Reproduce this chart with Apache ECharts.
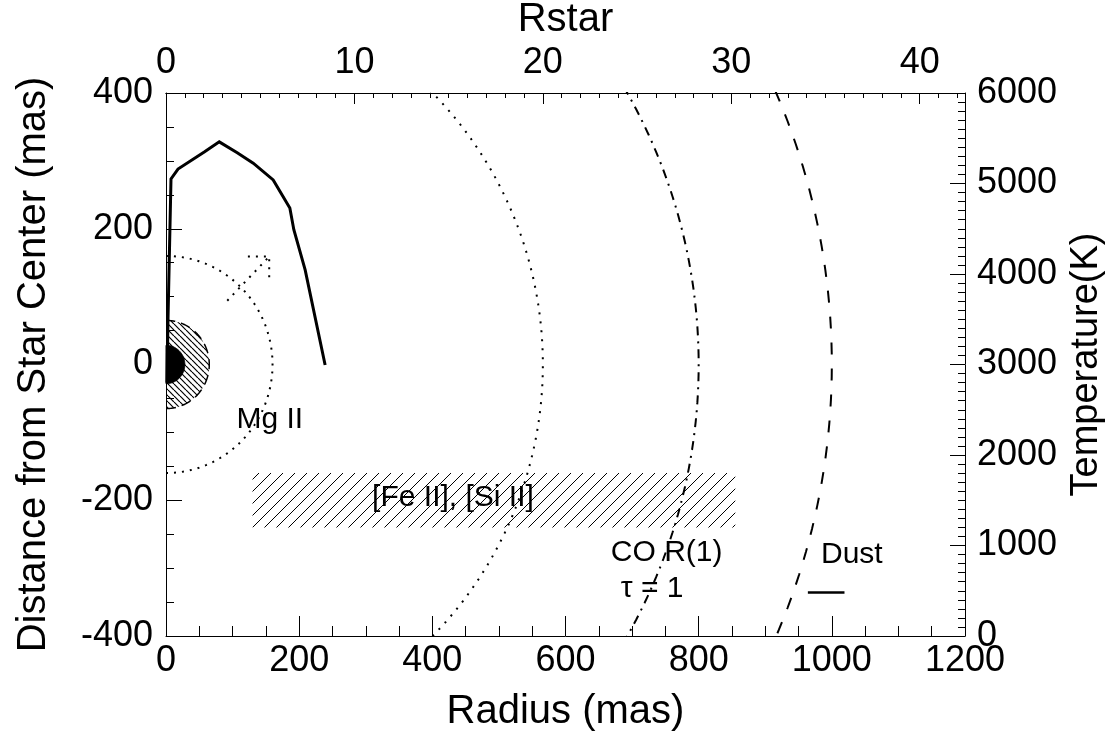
<!DOCTYPE html>
<html><head><meta charset="utf-8">
<script src="https://cdn.jsdelivr.net/npm/echarts@6/dist/echarts.min.js"></script>
<style>html,body{margin:0;padding:0;background:#fff}#c{width:1112px;height:736px}</style>
</head><body><div id="c"></div>
<script>
// ---- data ----
const RSTAR_MAS = 28.3;                 // one stellar radius in mas
const xTickInterval = 200;
const yTickInterval = 200;
const tempTickInterval = 1000;
const rstarTickInterval = 10;

// temperature profile (radius in mas, T in K)
const tempRadius = [1.5, 3, 7.5, 18, 58, 80, 107, 131, 161, 186, 192, 209, 239];
const tempK      = [2800, 3500, 5050, 5160, 5350, 5460, 5340, 5225, 5040, 4730, 4490, 4045, 2995];

// shells (radius in mas)
const starRadius = 28.3;
const hatchedShellRadius = 65;
const mgIIRadius = 160;
const dottedArcRadius = 566;   // 20 Rstar
const coArcRadius = 800;
const dustArcRadius = 1000;

// [Fe II], [Si II] band
const feBandX = [130, 855];
const feBandY = [-160, -240];

// dotted arrow
const arrowShaft = [[92, 94], [155, 159]];
const arrowHead = [[123, 159], [155, 159], [155, 128]];

// Dust key segment
const dustKey = [[964, -336], [1019, -336]];

// annotation labels
const labelText = ['Mg II', '[Fe II], [Si II]', 'CO R(1)', 'τ = 1', 'Dust'];
const labelX = [156, 431, 752, 730, 1030];
const labelY = [-82, -196, -277, -331, -280];

// ---- helpers ----
function halfCircle(r) {
  const pts = [];
  for (let a = -90; a <= 90; a += 1) {
    const t = a * Math.PI / 180;
    pts.push([r * Math.cos(t), r * Math.sin(t)]);
  }
  return pts;
}
function hatch(size, dir, lw) {
  const c = document.createElement('canvas');
  c.width = c.height = size;
  const g = c.getContext('2d');
  g.strokeStyle = '#000'; g.lineWidth = lw;
  for (let k = -1; k <= 1; k++) {
    g.beginPath();
    if (dir > 0) { g.moveTo(k * size, size); g.lineTo(k * size + size, 0); }
    else { g.moveTo(k * size, 0); g.lineTo(k * size + size, size); }
    g.stroke();
  }
  return c;
}
const bandPattern = { image: hatch(12, 1, 1), repeat: 'repeat' };
const shellPattern = { image: hatch(6, -1, 1.2), repeat: 'repeat' };

const FONT = 'Liberation Sans, Arial, Helvetica, sans-serif';
const tickFont = 36, titleFont = 40, annFont = 30;
const plain = v => String(v);

const chart = echarts.init(document.getElementById('c'), null, { renderer: 'canvas' });
const blackLine = { color: '#000', width: 1 };

function arcSeries(r, type, width) {
  return {
    type: 'line', xAxisIndex: 0, yAxisIndex: 0, data: halfCircle(r),
    showSymbol: false, symbol: 'none', clip: true, silent: true,
    lineStyle: { color: '#000', width: width, type: type }, z: 3
  };
}

const option = {
  animation: false,
  backgroundColor: '#fff',
  grid: { left: 166, right: 147, top: 93, bottom: 100, containLabel: false, outerBoundsMode: 'none' },
  xAxis: [
    { type: 'value', position: 'bottom', min: 0, max: 1200, interval: xTickInterval,
      name: 'Radius (mas)', nameLocation: 'middle', nameGap: 56,
      nameTextStyle: { fontSize: titleFont, fontFamily: FONT, color: '#000' },
      axisLine: { show: true, onZero: false, lineStyle: blackLine },
      axisTick: { show: true, inside: true, length: 20, lineStyle: blackLine },
      minorTick: { show: true, splitNumber: 4, length: 10, lineStyle: blackLine },
      axisLabel: { fontSize: tickFont, fontFamily: FONT, color: '#000', margin: 7, formatter: plain },
      splitLine: { show: false } },
    { type: 'value', position: 'top', min: 0, max: 1200 / RSTAR_MAS, interval: 1,
      axisLine: { show: true, onZero: false, lineStyle: blackLine },
      axisTick: { show: true, inside: true, length: 5, lineStyle: blackLine },
      axisLabel: { show: false }, splitLine: { show: false } },
    { type: 'value', position: 'top', min: 0, max: 1200 / RSTAR_MAS, interval: rstarTickInterval,
      name: 'Rstar', nameLocation: 'middle', nameGap: 44,
      nameTextStyle: { fontSize: titleFont, fontFamily: FONT, color: '#000' },
      axisLine: { show: true, onZero: false, lineStyle: blackLine },
      axisTick: { show: true, inside: true, length: 11, lineStyle: blackLine },
      axisLabel: { fontSize: tickFont, fontFamily: FONT, color: '#000', margin: 12,
        formatter: v => (Math.abs(v % rstarTickInterval) < 1e-6 ? String(v) : '') },
      splitLine: { show: false } }
  ],
  yAxis: [
    { type: 'value', position: 'left', min: -400, max: 400, interval: yTickInterval,
      name: 'Distance from Star Center (mas)', nameLocation: 'middle', nameGap: 112,
      nameTextStyle: { fontSize: titleFont, fontFamily: FONT, color: '#000' },
      axisLine: { show: true, onZero: false, lineStyle: blackLine },
      axisTick: { show: true, inside: true, length: 16, lineStyle: blackLine },
      minorTick: { show: true, splitNumber: 4, length: 8, lineStyle: blackLine },
      axisLabel: { fontSize: tickFont, fontFamily: FONT, color: '#000', margin: 13, formatter: plain },
      splitLine: { show: false } },
    { type: 'value', position: 'right', min: 0, max: 6000, interval: tempTickInterval,
      name: 'Temperature(K)', nameLocation: 'middle', nameGap: 101,
      nameTextStyle: { fontSize: 38, fontFamily: FONT, color: '#000' },
      axisLine: { show: true, onZero: false, lineStyle: blackLine },
      axisTick: { show: true, inside: true, length: 15, lineStyle: blackLine },
      minorTick: { show: true, splitNumber: 10, length: 7, lineStyle: blackLine },
      axisLabel: { fontSize: tickFont, fontFamily: FONT, color: '#000', margin: 12, formatter: plain },
      splitLine: { show: false } }
  ],
  series: [
    // [Fe II], [Si II] hatched band
    { type: 'custom', xAxisIndex: 0, yAxisIndex: 0, silent: true, z: 1,
      data: [[feBandX[0], feBandY[0], feBandX[1], feBandY[1]]],
      renderItem: function (params, api) {
        const p0 = api.coord([api.value(0), api.value(1)]);
        const p1 = api.coord([api.value(2), api.value(3)]);
        return { type: 'rect',
          shape: { x: Math.min(p0[0], p1[0]), y: Math.min(p0[1], p1[1]),
                   width: Math.abs(p1[0] - p0[0]), height: Math.abs(p1[1] - p0[1]) },
          style: { fill: bandPattern, stroke: null } };
      } },
    // hatched inner shell + star disk
    { type: 'custom', xAxisIndex: 0, yAxisIndex: 0, silent: true, z: 2,
      data: [[hatchedShellRadius, 0], [starRadius, 1]],
      renderItem: function (params, api) {
        const r = api.value(0), isStar = api.value(1) === 1;
        const pts = halfCircle(r).map(p => api.coord(p));
        if (isStar) {
          return { type: 'polygon', shape: { points: pts }, style: { fill: '#000', stroke: '#000', lineWidth: 1 } };
        }
        return { type: 'group', children: [
          { type: 'polygon', shape: { points: pts }, style: { fill: shellPattern, stroke: null } },
          { type: 'polyline', shape: { points: pts },
            style: { fill: null, stroke: '#000', lineWidth: 1.5, lineDash: [10, 6] } }
        ] };
      } },
    // Mg II dotted half-circle
    arcSeries(mgIIRadius, [2, 6], 2),
    // big arcs
    arcSeries(dottedArcRadius, [2, 7], 2),
    arcSeries(coArcRadius, [9, 6, 2, 6], 2),
    arcSeries(dustArcRadius, [12, 14], 2),
    // dotted arrow
    { type: 'line', xAxisIndex: 0, yAxisIndex: 0, data: arrowShaft, showSymbol: false, symbol: 'none',
      lineStyle: { color: '#000', width: 2, type: [2, 6] }, silent: true, z: 3 },
    { type: 'line', xAxisIndex: 0, yAxisIndex: 0, data: arrowHead, showSymbol: false, symbol: 'none',
      lineStyle: { color: '#000', width: 2, type: [2, 6] }, silent: true, z: 3 },
    // Dust key segment
    { type: 'line', xAxisIndex: 0, yAxisIndex: 0, data: dustKey, showSymbol: false, symbol: 'none',
      lineStyle: { color: '#000', width: 2.5 }, silent: true, z: 3 },
    // temperature profile
    { type: 'line', xAxisIndex: 0, yAxisIndex: 1,
      data: tempRadius.map((x, i) => [x, tempK[i]]),
      showSymbol: false, symbol: 'none', clip: true,
      lineStyle: { color: '#000', width: 3, join: 'miter' }, silent: true, z: 4 },
    // annotation labels
    { type: 'custom', xAxisIndex: 0, yAxisIndex: 0, silent: true, z: 5,
      data: labelX.map((x, i) => [x, labelY[i]]),
      renderItem: function (params, api) {
        const p = api.coord([api.value(0), api.value(1)]);
        return { type: 'text', x: p[0], y: p[1],
          style: { text: labelText[params.dataIndex], fontSize: annFont, fontFamily: FONT,
                   fill: '#000', align: 'center', verticalAlign: 'middle' } };
      } }
  ]
};
chart.setOption(option);
</script>
</body></html>
